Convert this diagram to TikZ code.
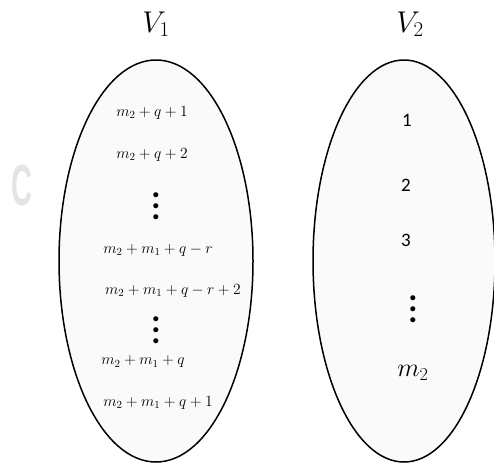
\RequirePackage{fix-cm}
\documentclass[tikz,border=0pt]{standalone}
\usepackage{fontspec}
\usepackage{tikz}
\usetikzlibrary{shapes.geometric,positioning}
\newfontfamily\calfont{Carlito}
\newfontfamily\markfont{Liberation Sans}
\definecolor{setfill}{RGB}{250,250,250}
\definecolor{markgray}{RGB}{228,228,228}
% three heavy dots, stacked
\newcommand{\tallvdots}{\vbox{\baselineskip=11pt\lineskiplimit=-20pt\hbox{.}\hbox{.}\hbox{.}}}
\tikzset{
  setbox/.style={ellipse,draw=black,line width=1.5pt,fill=setfill,inner sep=0pt},
  setname/.style={font=\fontsize{30}{30}\selectfont},
  lefttext/.style={font=\fontsize{15.5}{18}\selectfont,inner sep=0pt},
  righttext/.style={font=\fontsize{19}{22}\selectfont\calfont,inner sep=0pt},
  dotstext/.style={font=\fontsize{34}{34}\selectfont\calfont\bfseries,inner sep=0pt}
}
\begin{document}
\begin{tikzpicture}[x=1pt,y=-1pt]
    \useasboundingbox (0,0) rectangle (494,463);
    % faint mark on the left
    \node[text=markgray,font=\fontsize{58}{58}\selectfont\markfont\bfseries,xscale=0.5] (mark) at (22,186) {C};
    % the two sets
    \node[setbox,minimum width=194pt,minimum height=402pt] (set1) at (156,261) {};
    \node[setbox,minimum width=182pt,minimum height=402pt] (set2) at (404,261) {};
    \node[setname] (V1) at (156,24) {$V_1$};
    \node[setname] (V2) at (410,24) {$V_2$};
    % left set
    \node[lefttext] (l1) at (152,113) {$m_2+q+1$};
    \node[lefttext] (l2) at (152,155) {$m_2+q+2$};
    \node[dotstext] (l3) at (156,206) {\tallvdots};
    \node[lefttext] (l4) at (158,250) {$m_2+m_1+q-r$};
    \node[lefttext] (l5) at (173,291) {$m_2+m_1+q-r+2$};
    \node[dotstext] (l6) at (156,330) {\tallvdots};
    \node[lefttext] (l7) at (143,362) {$m_2+m_1+q$};
    \node[lefttext] (l8) at (158,403) {$m_2+m_1+q+1$};
    % right set
    \node[righttext] (r1) at (407,120) {1};
    \node[righttext] (r2) at (406,185) {2};
    \node[righttext] (r3) at (406,240) {3};
    \node[dotstext] (r4) at (413,309) {\tallvdots};
    \node[righttext,font=\fontsize{26}{28}\selectfont] (r5) at (413,373) {$m_2$};
\end{tikzpicture}
\end{document}
